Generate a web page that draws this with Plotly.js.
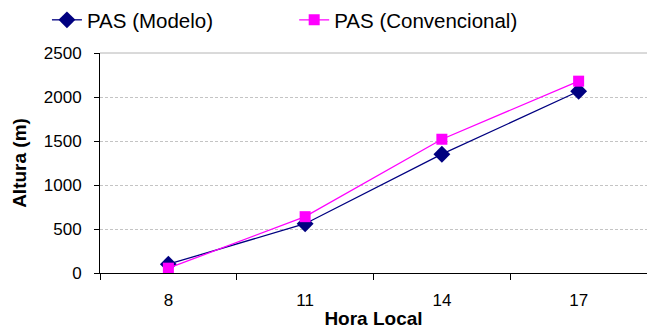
<!DOCTYPE html>
<html>
<head>
<meta charset="utf-8">
<script src="https://cdn.plot.ly/plotly-3.0.1.min.js"></script>
<style>html,body{margin:0;padding:0;background:#fff}#chart{width:647px;height:330px}</style>
</head>
<body>
<div id="chart"></div>
<script>
const horas = ['8', '11', '14', '17'];
const pasModelo = [100, 560, 1350, 2065];
const pasConvencional = [55, 640, 1520, 2180];
const yTicks = [0, 500, 1000, 1500, 2000, 2500];
const nomeModelo = 'PAS (Modelo)';
const nomeConvencional = 'PAS (Convencional)';

const FONT = 'Liberation Sans';

const traces = [
  {
    x: horas, y: pasModelo, name: nomeModelo, type: 'scatter', mode: 'lines+markers',
    line: {color: '#000080', width: 1.3},
    marker: {symbol: 'diamond', size: 13, color: '#000080'},
    legend: 'legend', cliponaxis: false
  },
  {
    x: horas, y: pasConvencional, name: nomeConvencional, type: 'scatter', mode: 'lines+markers',
    line: {color: '#ff00ff', width: 1.3},
    marker: {symbol: 'square', size: 11, color: '#ff00ff'},
    legend: 'legend2', cliponaxis: false
  }
];

const legendBase = {
  orientation: 'h', xanchor: 'left', yanchor: 'middle', y: 1.15,
  font: {family: FONT, size: 20.5, color: '#000'},
  bgcolor: 'rgba(0,0,0,0)', borderwidth: 0
};

const layout = {
  width: 647, height: 330,
  margin: {l: 100, r: 0, t: 53, b: 57, autoexpand: false},
  paper_bgcolor: '#fff', plot_bgcolor: '#fff',
  font: {family: FONT, color: '#000'},
  showlegend: true,
  legend: Object.assign({}, legendBase, {x: -0.097}),
  legend2: Object.assign({}, legendBase, {x: 0.355}),
  xaxis: {
    type: 'category', range: [-0.5, 3.5],
    tickson: 'boundaries', ticks: 'outside', ticklen: 6, tickcolor: '#000',
    showline: true, linecolor: '#000', linewidth: 1,
    showgrid: false, zeroline: false, automargin: false,
    tickfont: {family: FONT, size: 17}, ticklabelstandoff: 12,
    title: {text: 'Hora Local', font: {family: FONT, size: 19, weight: 'bold'}, standoff: 2}
  },
  yaxis: {
    range: [0, 2500], tickvals: yTicks, ticktext: yTicks.map(String),
    ticks: 'outside', ticklen: 5, tickcolor: '#000',
    showline: true, linecolor: '#000', linewidth: 1,
    showgrid: true, gridcolor: '#c4c4c4', griddash: '3px,2px', gridwidth: 1,
    zeroline: false, automargin: false,
    tickfont: {family: FONT, size: 17}, ticklabelstandoff: 9,
    title: {text: 'Altura (m)', font: {family: FONT, size: 19, weight: 'bold'}, standoff: 12}
  },
  shapes: [
    {type: 'line', xref: 'paper', yref: 'paper', x0: 0, x1: 1, y0: 1, y1: 1,
     line: {color: '#b4b4b4', width: 1}}
  ]
};

Plotly.newPlot('chart', traces, layout, {displayModeBar: false, staticPlot: true});
</script>
</body>
</html>
